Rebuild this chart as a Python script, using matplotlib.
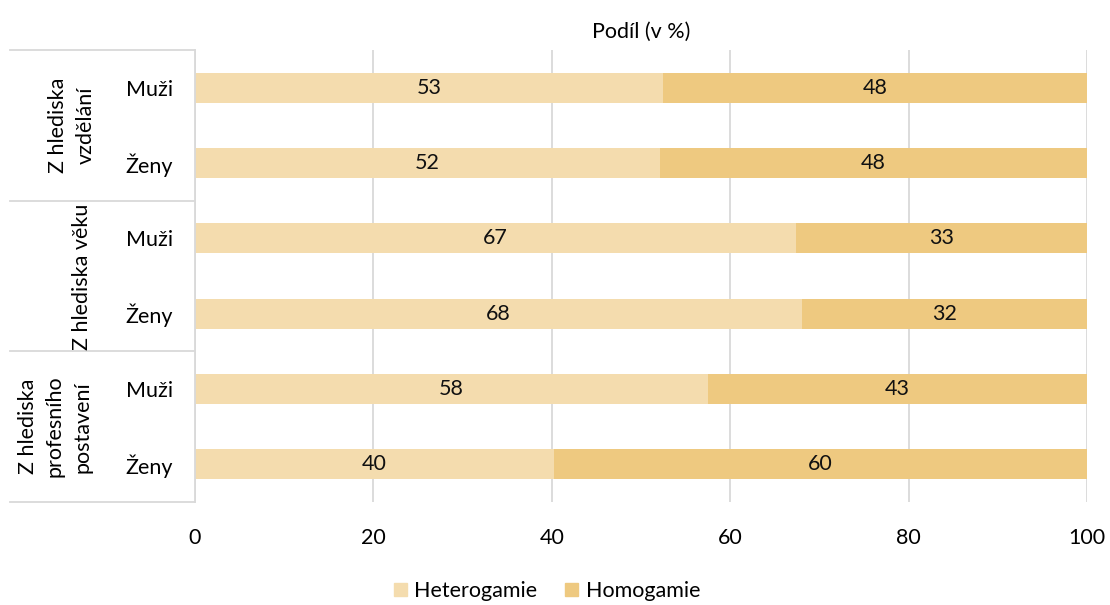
import numpy as np
import matplotlib
matplotlib.use('Agg')
from matplotlib import pyplot as plt
from matplotlib.patches import Patch
import matplotlib.transforms as mtransforms

plt.rcParams['font.family'] = ['Lato', 'DejaVu Sans']

# data
groups = ['Z hlediska\nvzdělání', 'Z hlediska věku', 'Z hlediska\nprofesního\npostavení']
rows = ['Muži', 'Ženy', 'Muži', 'Ženy', 'Muži', 'Ženy']
heterogamie = [52.5, 52.1, 67.4, 68.0, 57.5, 40.2]
homogamie = [47.5, 47.9, 32.6, 32.0, 42.5, 59.8]
series_names = ['Heterogamie', 'Homogamie']
colors = ['#F4DCAE', '#EEC980']
xticks = [0, 20, 40, 60, 80, 100]

FS = 15.5

def half_up(v):
    return str(int(np.floor(v + 0.5)))

fig = plt.figure(figsize=(11.1, 6.05), dpi=100)
ax = fig.add_axes([195 / 1110, 1 - 502 / 605, 892 / 1110, 452 / 605])

y = np.arange(len(rows))
b1 = ax.barh(y, heterogamie, height=0.4, color=colors[0], label=series_names[0], zorder=2)
b2 = ax.barh(y, homogamie, left=heterogamie, height=0.4, color=colors[1], label=series_names[1], zorder=2)

for bars, vals in [(b1, heterogamie), (b2, homogamie)]:
    for rect, v in zip(bars, vals):
        ax.text(rect.get_x() + rect.get_width() / 2, rect.get_y() + rect.get_height() / 2,
                half_up(v), ha='center', va='center', fontsize=FS, color='#111111', zorder=3)

ax.set_xlim(0, 100)
ax.set_ylim(len(rows) - 0.5, -0.5)
ax.set_xticks(xticks)
ax.set_xticklabels([str(t) for t in xticks], fontsize=FS)
ax.set_yticks(y)
ax.set_yticklabels(rows, fontsize=FS)
ax.tick_params(axis='x', length=0, pad=19)
ax.tick_params(axis='y', length=0, pad=16)
ax.grid(axis='x', color='#D9D9D9', linewidth=1.3, zorder=0)
for s in ['top', 'right', 'bottom']:
    ax.spines[s].set_visible(False)
ax.spines['left'].set_color('#D9D9D9')
ax.spines['left'].set_linewidth(1.3)

ax.set_title('Podíl (v %)', fontsize=FS, pad=9)

# group separators and labels
trans = mtransforms.blended_transform_factory(ax.transAxes, ax.transData)
x0 = -185 / 892
for b in [-0.5, 1.5, 3.5, 5.5]:
    ax.plot([x0, 0], [b, b], color='#D9D9D9', lw=1.3, transform=trans, clip_on=False)
label_x = [-123 / 892, -113 / 892, -140 / 892]
label_y = [0.5, 2.51, 4.5]
for g, lx, ly in zip(groups, label_x, label_y):
    ax.text(lx, ly, g, rotation=90, ha='center', va='center', fontsize=FS,
            transform=trans, linespacing=1.45)

handles = [Patch(color=colors[0]), Patch(color=colors[1])]
fig.legend(handles, series_names, loc='center', bbox_to_anchor=(547 / 1110, 1 - 591 / 605),
           ncol=2, frameon=False, fontsize=FS, handlelength=0.6, handleheight=0.6,
           handletextpad=0.35, columnspacing=1.3)

fig.savefig('out.png', dpi=100)
